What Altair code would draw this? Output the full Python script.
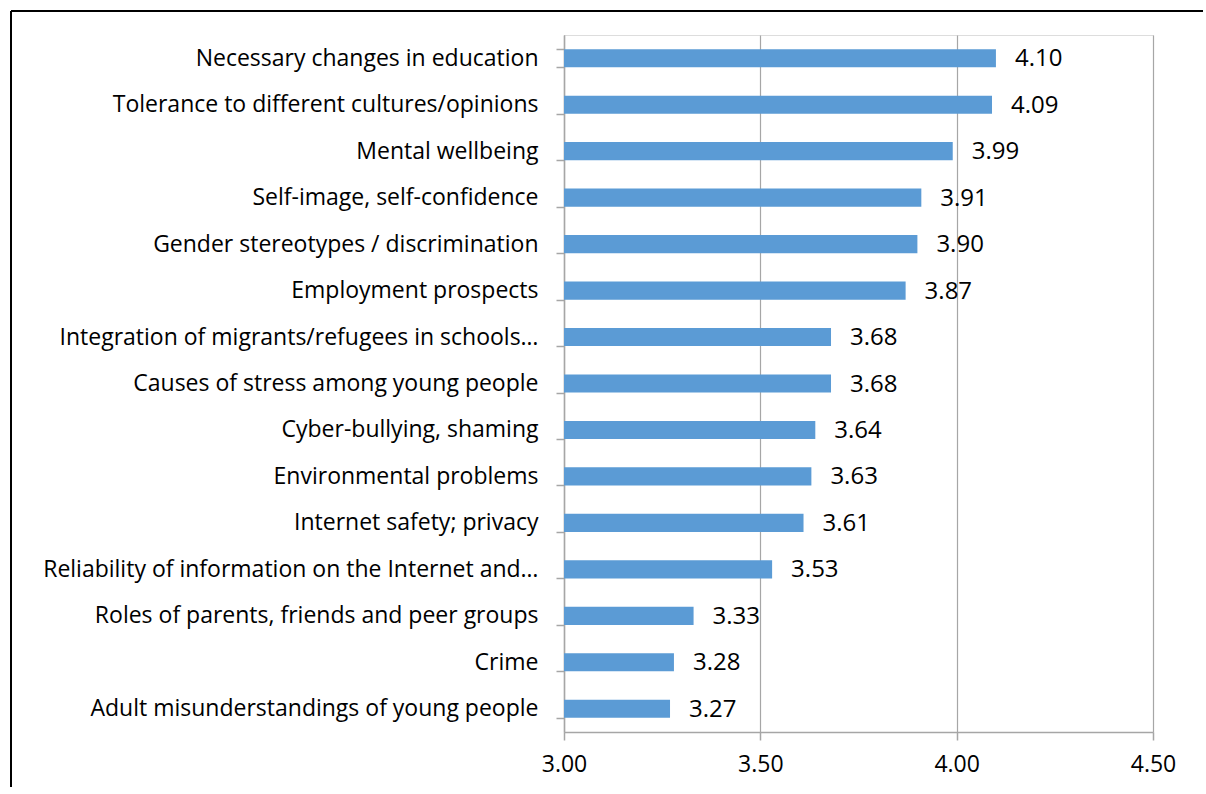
import altair as alt
import pandas as pd

categories = [
    "Necessary changes in education",
    "Tolerance to different cultures/opinions",
    "Mental wellbeing",
    "Self-image, self-confidence",
    "Gender stereotypes / discrimination",
    "Employment prospects",
    "Integration of migrants/refugees in schools…",
    "Causes of stress among young people",
    "Cyber-bullying, shaming",
    "Environmental problems",
    "Internet safety; privacy",
    "Reliability of information on the Internet and…",
    "Roles of parents, friends and peer groups",
    "Crime",
    "Adult misunderstandings of young people",
]
values = [4.10, 4.09, 3.99, 3.91, 3.90, 3.87, 3.68, 3.68, 3.64, 3.63, 3.61, 3.53, 3.33, 3.28, 3.27]
x_ticks = [3.0, 3.5, 4.0, 4.5]

df = pd.DataFrame({"cat": categories, "val": values})
df["label"] = df["val"].map(lambda v: f"{v:.2f}")

FONT = "Open Sans"
FS = 23
W, H = 589, 697

xscale = alt.Scale(domain=[3.0, 4.5], zero=False, nice=False)
yscale = alt.Scale(domain=categories, paddingInner=0.61, paddingOuter=0.305)

base = alt.Chart(df)

bars = base.mark_bar(color="#5B9BD5").encode(
    x=alt.X("val:Q", scale=xscale,
            axis=alt.Axis(values=x_ticks, format=".2f", title=None, grid=True,
                          gridColor="#a6a6a6", gridWidth=1.2,
                          domainColor="#a6a6a6", domainWidth=1.5,
                          tickColor="#a6a6a6", tickSize=8, tickWidth=1.5,
                          labelFont=FONT, labelFontSize=FS, labelColor="#000000",
                          labelPadding=13, labelFlush=False)),
    x2=alt.datum(3.0),
    y=alt.Y("cat:N", sort=categories, scale=yscale,
            axis=alt.Axis(title=None, tickBand="extent", domainColor="#a6a6a6",
                          domainWidth=1.5, tickColor="#a6a6a6", tickSize=8,
                          tickWidth=1.5, labelFont=FONT, labelFontSize=FS,
                          labelColor="#000000", labelPadding=18, labelLimit=600)),
)

text = base.mark_text(align="left", baseline="middle", dx=19, dy=1, font=FONT,
                      fontSize=24, color="#000000").encode(
    x=alt.X("val:Q", scale=xscale),
    y=alt.Y("cat:N", sort=categories, scale=yscale),
    text="label:N",
)

frame_df = pd.DataFrame({"k": [0]})
frame_top = alt.Chart(frame_df).mark_rule(color="#000000", strokeWidth=2).encode(
    x=alt.value(-553), x2=alt.value(W + 50), y=alt.value(-24),
)
frame_left = alt.Chart(frame_df).mark_rule(color="#000000", strokeWidth=2).encode(
    x=alt.value(-553), y=alt.value(-24), y2=alt.value(H + 55),
)

chart = alt.layer(frame_top, frame_left, bars, text).properties(
    width=W, height=H,
    autosize=alt.AutoSizeParams(type="none"),
    padding={"left": 564, "top": 35, "right": 1206 - 564 - W, "bottom": 794 - 35 - H},
).configure_view(stroke=None).configure(background="#ffffff")

chart.save("out.html", embed_options={"renderer": "svg", "actions": False})
